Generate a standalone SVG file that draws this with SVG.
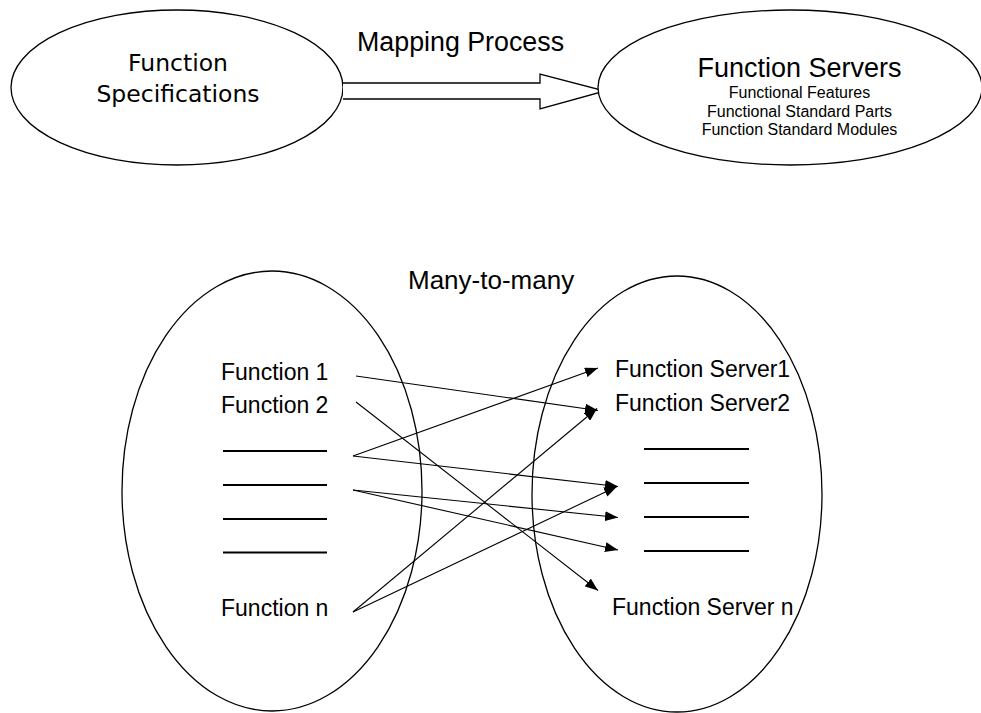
<svg xmlns="http://www.w3.org/2000/svg" width="981" height="713" viewBox="0 0 981 713">
  <style>
    .shape { fill: #ffffff; stroke: #000000; stroke-width: 1.3; }
    .title { font-family: "DejaVu Sans", Verdana, sans-serif; font-size: 23.5px; fill: #000000; text-anchor: middle; }
    .label { font-family: "Liberation Sans", Arial, sans-serif; fill: #000000; }
    .item { font-family: "Liberation Sans", Arial, sans-serif; font-size: 23px; fill: #000000; }
    .blank { stroke: #000000; stroke-width: 2; }
    .link { stroke: #000000; stroke-width: 1.1; fill: none; marker-end: url(#head); }
  </style>
  <defs>
    <marker id="head" markerUnits="userSpaceOnUse" markerWidth="14" markerHeight="10" refX="13" refY="5" orient="auto">
      <path d="M0,0 L13,5 L0,10 z" fill="#000000"/>
    </marker>
  </defs>

  <rect width="981" height="713" fill="#ffffff"/>

  <!-- top: specifications mapped onto servers -->
  <g id="function-specifications">
    <ellipse class="shape" cx="177" cy="87.5" rx="166" ry="77.5"/>
    <text class="title" x="178" y="71">Function</text>
    <text class="title" x="178" y="102">Specifications</text>
  </g>

  <g id="mapping-process">
    <path class="shape" d="M343,83 H540 V74 L605,91 L540,109 V99 H343"/>
    <text class="label" x="357" y="51" font-size="26.8">Mapping Process</text>
  </g>

  <g id="function-servers">
    <ellipse class="shape" cx="790" cy="87.5" rx="192" ry="77.5"/>
    <text class="label" x="799.5" y="77" font-size="27" text-anchor="middle">Function Servers</text>
    <text class="label" x="799.5" y="98" font-size="16" text-anchor="middle">Functional Features</text>
    <text class="label" x="799.5" y="117" font-size="16" text-anchor="middle">Functional Standard Parts</text>
    <text class="label" x="799.5" y="135" font-size="16" text-anchor="middle">Function Standard Modules</text>
  </g>

  <!-- bottom: many-to-many relation -->
  <text class="label" x="408" y="289" font-size="26">Many-to-many</text>

  <g id="functions">
    <ellipse class="shape" cx="272" cy="491" rx="150" ry="220"/>
    <text class="item" x="221" y="380">Function 1</text>
    <text class="item" x="221" y="413">Function 2</text>
    <line class="blank" x1="223" y1="451" x2="327" y2="451"/>
    <line class="blank" x1="223" y1="485" x2="327" y2="485"/>
    <line class="blank" x1="223" y1="519" x2="327" y2="519"/>
    <line class="blank" x1="223" y1="552.5" x2="327" y2="552.5"/>
    <text class="item" x="221" y="616">Function n</text>
  </g>

  <g id="servers">
    <ellipse class="shape" cx="677" cy="494" rx="145" ry="218"/>
    <text class="item" x="615" y="377">Function Server1</text>
    <text class="item" x="615" y="411">Function Server2</text>
    <line class="blank" x1="644" y1="449" x2="749" y2="449"/>
    <line class="blank" x1="644" y1="483" x2="749" y2="483"/>
    <line class="blank" x1="644" y1="517" x2="749" y2="517"/>
    <line class="blank" x1="644" y1="551" x2="749" y2="551"/>
    <text class="item" x="612" y="615">Function Server n</text>
  </g>

  <g id="connectors">
    <line class="link" x1="356" y1="376" x2="598" y2="410.5"/>
    <line class="link" x1="356" y1="402" x2="598" y2="590.5"/>
    <line class="link" x1="353" y1="456" x2="598" y2="368"/>
    <line class="link" x1="353" y1="456" x2="618" y2="486.5"/>
    <line class="link" x1="353" y1="490" x2="618" y2="517.5"/>
    <line class="link" x1="353" y1="490" x2="618" y2="550"/>
    <line class="link" x1="353" y1="612" x2="597" y2="408.5"/>
    <line class="link" x1="353" y1="612" x2="617" y2="486.5"/>
  </g>
</svg>
